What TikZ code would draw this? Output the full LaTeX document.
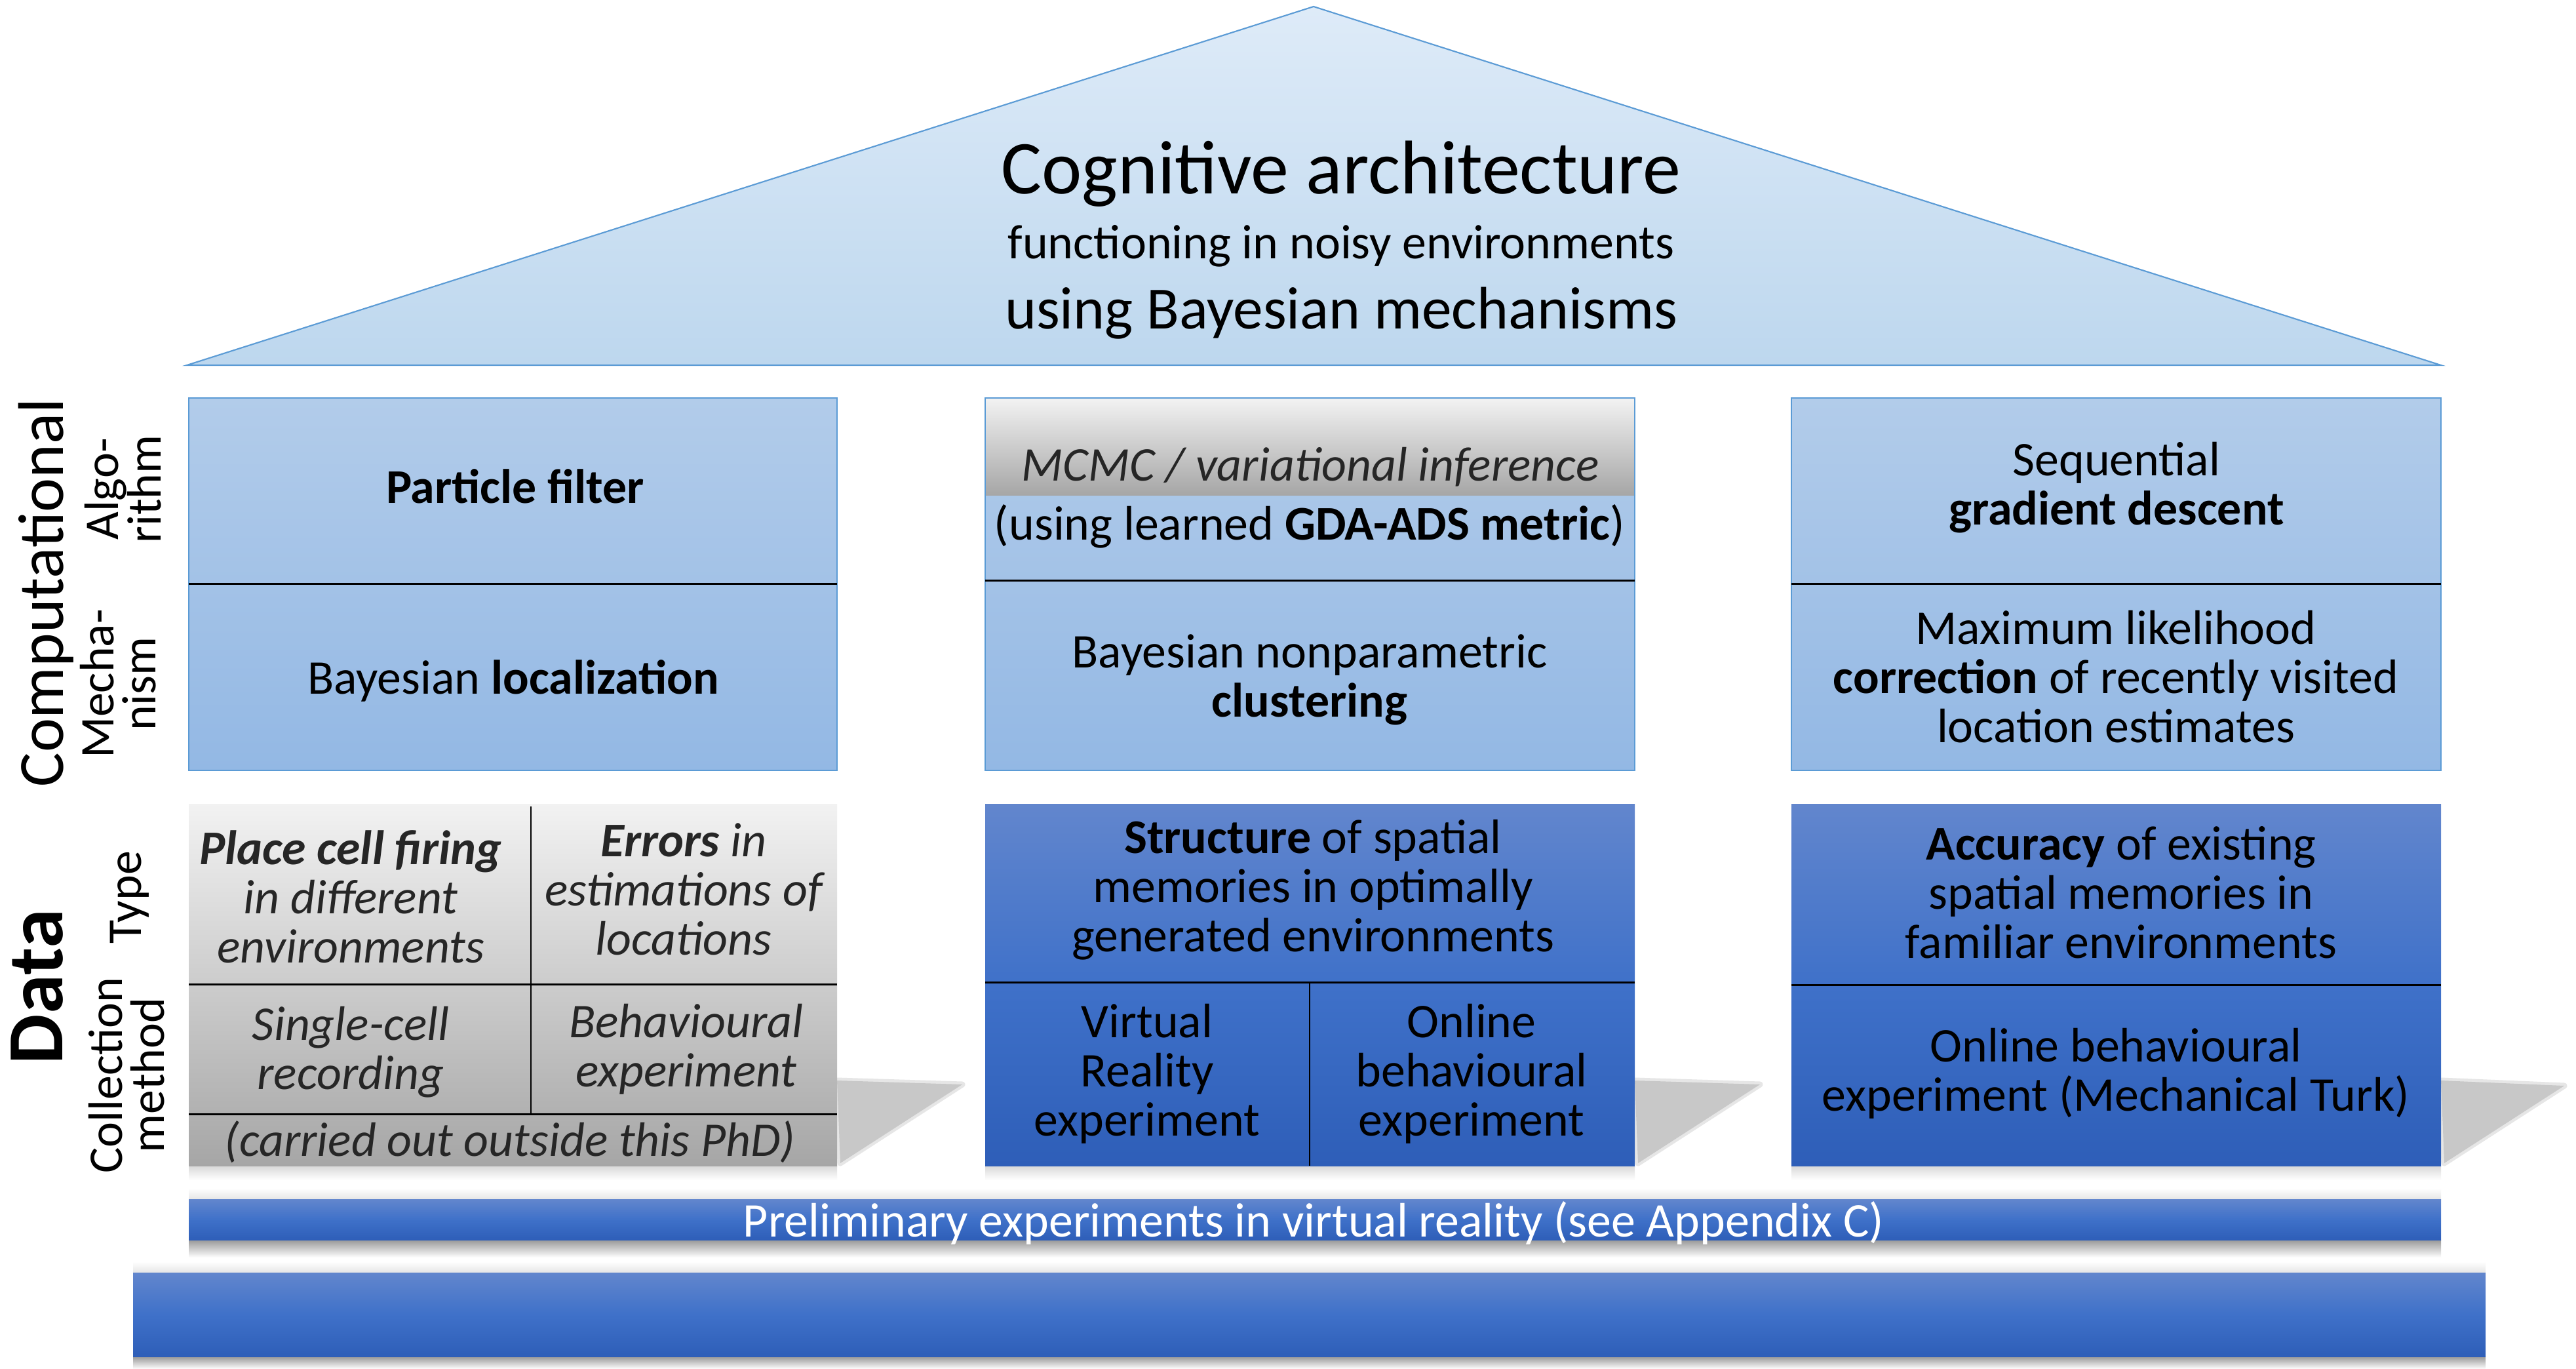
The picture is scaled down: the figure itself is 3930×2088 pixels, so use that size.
\documentclass[tikz,border=0pt]{standalone}
\usepackage{fontspec}
\setmainfont{Carlito}
\definecolor{compTop}{RGB}{178,204,234}
\definecolor{compBot}{RGB}{147,184,228}
\definecolor{compLine}{RGB}{91,155,213}
\definecolor{dataTop}{RGB}{98,134,205}
\definecolor{dataMid}{RGB}{63,113,201}
\definecolor{dataBot}{RGB}{46,94,184}
\definecolor{grayTop}{RGB}{242,242,242}
\definecolor{grayBot}{RGB}{166,166,166}
\definecolor{roofTop}{RGB}{222,235,248}
\definecolor{roofBot}{RGB}{189,215,238}
\definecolor{shadowGray}{RGB}{200,200,200}
\definecolor{darkText}{RGB}{38,38,38}
\begin{document}
\begin{tikzpicture}[x=0.01cm,y=-0.01cm,
  body/.style={font=\fontsize{21}{21.3}\selectfont, align=center, inner sep=0pt, anchor=base},
  italbody/.style={body, text=darkText, font=\fontsize{21}{21.3}\selectfont\itshape},
  sidesmall/.style={font=\fontsize{21}{18.2}\selectfont, align=center, inner sep=0pt, anchor=base, rotate=90},
  compbox/.style={top color=compTop, bottom color=compBot, draw=compLine, line width=0.6pt},
  databox/.style={top color=dataTop, bottom color=dataBot, middle color=dataMid},
  graybox/.style={top color=grayTop, bottom color=grayBot},
  divline/.style={draw=black, line width=0.85pt},
  thinline/.style={draw=black, line width=0.45pt},
  persp/.style={fill=shadowGray, draw=shadowGray, draw opacity=0.45, line width=0.09cm, line join=round},
  softshadow/.style={top color=black!40, bottom color=white}
]
\useasboundingbox (0,0) rectangle (3930,2088);
\fill[white] (0,0) rectangle (3930,2088);

% ---------- perspective shadows of the data boxes ----------
\path[persp] (1277,1648) -- (1468,1654) -- (1282,1774) -- cycle;
\path[persp] (2494,1648) -- (2685,1654) -- (2499,1774) -- cycle;
\path[persp] (3724,1648) -- (3912,1656) -- (3729,1774) -- cycle;
% faint shadows under the data boxes
\shade[top color=black!15, bottom color=white] (288,1778) rectangle (1277,1800);
\shade[top color=black!15, bottom color=white] (1503,1778) rectangle (2494,1800);
\shade[top color=black!15, bottom color=white] (2733,1778) rectangle (3724,1800);

% ---------- roof ----------
\draw[draw=compLine, line width=0.6pt, top color=roofTop, bottom color=roofBot, line join=miter]
  (2004,10) -- (3724,557) -- (285,557) -- cycle;
\node[font=\fontsize{33}{33}\selectfont, inner sep=0pt, anchor=base] (title) at (2046,295) {Cognitive architecture};
\node[font=\fontsize{21}{21}\selectfont, inner sep=0pt, anchor=base] (sub1) at (2046,394) {functioning in noisy environments};
\node[font=\fontsize{26}{26}\selectfont, inner sep=0pt, anchor=base] (sub2) at (2046,501) {using Bayesian mechanisms};

% ---------- computational boxes ----------
\path[compbox] (288,607) rectangle (1277,1175);
\draw[divline] (288,890) -- (1277,890);
\path[compbox] (1503,607) rectangle (2494,1175);
\shade[graybox] (1504,608) rectangle (2493,755);
\draw[draw=compLine, line width=0.6pt] (1503,607) rectangle (2494,1175);
\draw[divline] (1503,885) -- (2494,885);
\path[compbox] (2733,607) rectangle (3724,1175);
\draw[divline] (2733,890) -- (3724,890);

% (anchor base = baseline of the last line)
\node[body] (lc1) at (786,767) {\textbf{Particle filter}};
\node[body] (lc2) at (783,1058) {Bayesian \textbf{localization}};
\node[body, text=darkText] (mc1) at (1999,733) {\textit{MCMC / variational inference}};
\node[body] (mc1b) at (1998,823) {(using learned \textbf{GDA-ADS metric})};
\node[body] (mc2) at (1998,1093) {Bayesian nonparametric\\\textbf{clustering}};
\node[body] (rc1) at (3229,800) {Sequential\\\textbf{gradient descent}};
\node[body] (rc2) at (3228,1132) {Maximum likelihood\\\textbf{correction} of recently visited\\location estimates};

% ---------- data boxes ----------
\shade[graybox] (288,1226) rectangle (1277,1778);
\draw[divline] (288,1501) -- (1277,1501);
\draw[divline] (288,1699) -- (1277,1699);
\draw[thinline] (810,1230) -- (810,1699);
\shade[databox] (1503,1226) rectangle (2494,1778);
\draw[divline] (1503,1498) -- (2494,1498);
\draw[thinline] (1998,1498) -- (1998,1778);
\shade[databox] (2733,1226) rectangle (3724,1778);
\draw[divline] (2733,1502) -- (3724,1502);

\node[italbody] (ld1) at (535,1468) {\textbf{Place cell firing}\\in different\\environments};
\node[italbody] (ld2) at (1043,1456) {\textbf{Errors} in\\estimations of\\locations};
\node[italbody] (ld3) at (535,1661) {Single-cell\\recording};
\node[italbody] (ld4) at (1047,1657) {Behavioural\\experiment};
\node[italbody] (ld5) at (778,1763) {(carried out outside this PhD)};
\node[body] (md1) at (2003,1451) {\textbf{Structure} of spatial\\memories in optimally\\generated environments};
\node[body] (md2) at (1750,1732) {Virtual\\Reality\\experiment};
\node[body] (md3) at (2245,1732) {Online\\behavioural\\experiment};
\node[body] (rd1) at (3236,1461) {\textbf{Accuracy} of existing\\spatial memories in\\familiar environments};
\node[body] (rd2) at (3228,1694) {Online behavioural\\experiment (Mechanical Turk)};

% ---------- foundation bars ----------
\shade[top color=white, bottom color=black!10] (288,1812) rectangle (3724,1829);
\shade[softshadow] (288,1891) rectangle (3724,1918);
\shade[databox] (288,1829) rectangle (3724,1891);
\node[body, text=white] (pre) at (2004,1886) {Preliminary experiments in virtual reality (see Appendix C)};
\shade[top color=white, bottom color=black!10] (203,1924) rectangle (3792,1941);
\shade[softshadow] (203,2069) rectangle (3792,2088);
\shade[databox] (203,1941) rectangle (3792,2069);

% ---------- side labels ----------
\node[font=\fontsize{28}{28}\selectfont, inner sep=0pt, anchor=base, rotate=90] (comp) at (96,904) {Computational};
\node[font=\fontsize{34.5}{34.5}\selectfont\bfseries, inner sep=0pt, anchor=base, rotate=90] (data) at (95,1505) {Data};
\node[sidesmall] (algo) at (245,746) {Algo-\\rithm};
\node[sidesmall] (mecha) at (237,1043) {Mecha-\\nism};
\node[sidesmall] (type) at (215,1369) {Type};
\node[sidesmall] (coll) at (250,1640) {Collection\\method};
\end{tikzpicture}
\end{document}
